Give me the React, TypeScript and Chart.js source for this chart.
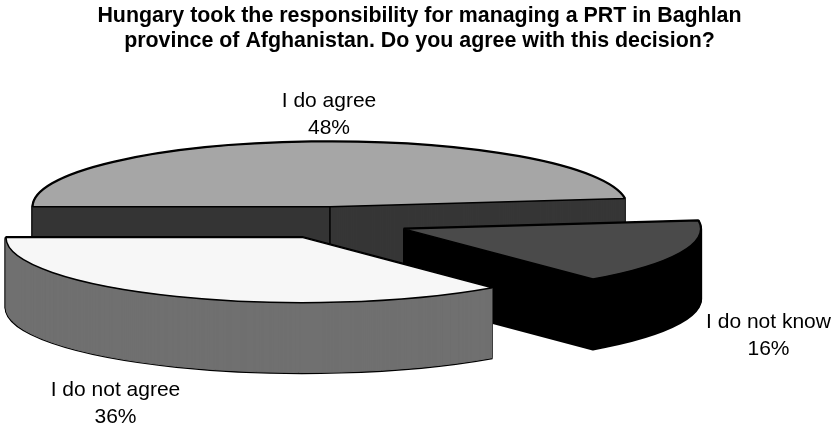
import React, { useEffect, useRef } from "react";
import { Chart, registerables } from "chart.js";

Chart.register(...registerables);

const categories = ["I do agree", "I do not know", "I do not agree"];
const shares = [48, 16, 36];
const topColors = ["#a6a6a6", "#4a4a4a", "#f7f7f7"];
const wallColors = ["#363636", "#000000", "#707070"];
const titleLines = [
  "Hungary took the responsibility for managing a PRT in Baghlan",
  "province of Afghanistan. Do you agree with this decision?",
];

// Projection of the flat pie into its tilted 3D view.
const PIE_X = 334.6;
const PIE_Y = 222.9;
const RADIUS = 297;
const SQUASH = 65 / 297;
const DEPTH = 70;
const EXPLODE = 0.25 * RADIUS;

// Centre and first baseline of each two-line slice label.
const labelAnchors = [
  { x: 329, y: 107 },
  { x: 768.5, y: 328 },
  { x: 115.5, y: 396 },
];
const LABEL_LINE_GAP = 26.5;

const FONT_FAMILY = '"Liberation Sans", Arial, sans-serif';

const drawWithOptions = (arc: any, ctx: CanvasRenderingContext2D, overrides: object) => {
  const view = Object.create(arc);
  view.options = { ...arc.options, ...overrides };
  arc.draw.call(view, ctx);
};

const tiltedPie = {
  id: "tiltedPie",
  beforeDatasetDraw(chart: any) {
    const ctx: CanvasRenderingContext2D = chart.ctx;
    const arcs = chart.getDatasetMeta(0).data;

    // Paths are built under the squash, but strokes keep an even width.
    ctx.stroke = function () {
      const m = ctx.getTransform();
      ctx.resetTransform();
      CanvasRenderingContext2D.prototype.stroke.call(ctx);
      ctx.setTransform(m);
    };

    arcs.forEach((arc: any, i: number) => {
      const mid = (arc.startAngle + arc.endAngle) / 2;
      const place = (lift: number) => {
        ctx.save();
        ctx.translate(PIE_X, PIE_Y + lift);
        ctx.scale(1, SQUASH);
        ctx.translate(Math.cos(mid) * EXPLODE - arc.x, Math.sin(mid) * EXPLODE - arc.y);
      };

      // Outline of the extruded silhouette.
      for (let d = DEPTH; d >= 0; d--) {
        place(d);
        drawWithOptions(arc, ctx, { backgroundColor: "#000", borderColor: "#000", borderWidth: 3 });
        ctx.restore();
      }
      // Side walls, with a hairline of their own colour to close the seams between layers.
      for (let d = DEPTH; d >= 1; d--) {
        place(d);
        drawWithOptions(arc, ctx, { backgroundColor: wallColors[i], borderColor: wallColors[i], borderWidth: 1 });
        ctx.restore();
      }
      // Edge where the two flat faces of the rear slice meet.
      if (i === 0) {
        const ax = PIE_X + Math.cos(mid) * EXPLODE;
        const ay = PIE_Y + Math.sin(mid) * EXPLODE * SQUASH;
        ctx.save();
        ctx.strokeStyle = "#000";
        ctx.lineWidth = 1.5;
        ctx.beginPath();
        ctx.moveTo(ax, ay);
        ctx.lineTo(ax, ay + DEPTH);
        ctx.stroke();
        ctx.restore();
      }
      // Top face.
      place(0);
      drawWithOptions(arc, ctx, { backgroundColor: topColors[i], borderColor: "#000", borderWidth: 1.5 });
      ctx.restore();
    });

    delete (ctx as any).stroke;
    return false;
  },
  afterDraw(chart: any) {
    const ctx: CanvasRenderingContext2D = chart.ctx;
    ctx.save();
    ctx.fillStyle = "#000";
    ctx.font = `21px ${FONT_FAMILY}`;
    ctx.textAlign = "center";
    ctx.textBaseline = "alphabetic";
    categories.forEach((name, i) => {
      const { x, y } = labelAnchors[i];
      ctx.fillText(name, x, y);
      ctx.fillText(`${shares[i]}%`, x, y + LABEL_LINE_GAP);
    });
    ctx.restore();
  },
};

export default function App() {
  const ref = useRef<HTMLCanvasElement>(null);
  useEffect(() => {
    const chart = new Chart(ref.current!, {
      type: "pie",
      data: {
        labels: categories,
        datasets: [{ data: shares, backgroundColor: topColors, borderColor: "#000", borderWidth: 1.5 }],
      },
      options: {
        animation: false,
        responsive: false,
        rotation: 270,
        radius: RADIUS,
        layout: { padding: { left: 4 } },
        plugins: {
          legend: { display: false },
          tooltip: { enabled: false },
          title: {
            display: true,
            text: titleLines,
            color: "#000",
            font: { family: FONT_FAMILY, size: 21.4, weight: "bold", lineHeight: 1.19 },
            padding: { top: 3, bottom: 0 },
          },
        },
      },
      plugins: [tiltedPie],
    } as any);
    return () => chart.destroy();
  }, []);
  return (
    <div style={{ position: "absolute", left: 0, top: 0, width: 835, height: 424, background: "#fff" }}>
      <canvas ref={ref} width={835} height={424} style={{ display: "block" }} />
    </div>
  );
}
